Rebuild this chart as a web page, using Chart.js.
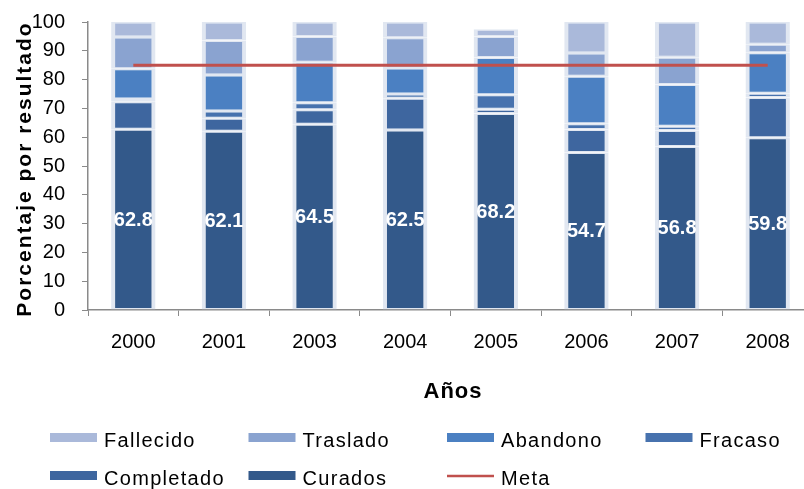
<!DOCTYPE html>
<html>
<head>
<meta charset="utf-8">
<script src="https://cdn.jsdelivr.net/npm/chart.js@4.4.1/dist/chart.umd.min.js"></script>
<style>
  html, body { margin: 0; padding: 0; background: #fff; overflow: hidden; }
  #wrap { width: 820px; height: 489px; }
</style>
</head>
<body>
<div id="wrap"><canvas id="chart" width="820" height="489"></canvas></div>
<script>
const years = ['2000', '2001', '2003', '2004', '2005', '2006', '2007', '2008'];

// porcentaje por resultado, de abajo hacia arriba en cada barra
const curados    = [62.8, 62.1, 64.5, 62.5, 68.2, 54.7, 56.8, 59.8];
const completado = [9.5, 4.5, 5.0, 11.0, 1.5, 8.0, 5.5, 14.0];
const fracaso    = [1.0, 2.5, 2.5, 1.5, 5.0, 2.0, 1.5, 1.5];
const abandono   = [10.5, 12.5, 14.0, 9.0, 13.0, 16.5, 14.5, 14.0];
const traslado   = [11.0, 12.0, 9.0, 10.5, 7.3, 8.0, 9.5, 3.0];
const fallecido  = [5.2, 6.4, 5.0, 5.5, 2.5, 10.8, 12.2, 7.7];
const metaLine   = [85, 85, 85, 85, 85, 85, 85, 85];

const yTicks = [0, 10, 20, 30, 40, 50, 60, 70, 80, 90, 100];
const yTitle = 'Porcentaje por resultado';
const xTitle = 'Años';
const legendOrder = ['Fallecido', 'Traslado', 'Abandono', 'Fracaso', 'Completado', 'Curados', 'Meta'];

const FONT = '"Liberation Sans", Arial, sans-serif';
const AXIS = '#8a8a8a';

function barSet(label, data, color) {
  return {
    type: 'bar',
    label,
    data,
    backgroundColor: color,
    borderColor: 'rgba(205, 215, 232, 0.6)',
    borderWidth: { left: 4, right: 4, top: 1.5, bottom: 1.5 },
    borderSkipped: false,
    stack: 'res',
    order: 1,
    barPercentage: 0.49,
    categoryPercentage: 1.0
  };
}

// etiquetas blancas con el % de curados en el centro del segmento
const valueLabels = {
  id: 'valueLabels',
  afterDatasetsDraw(chart) {
    const ctx = chart.ctx;
    const idx = chart.data.datasets.findIndex(d => d.label === 'Curados');
    const meta = chart.getDatasetMeta(idx);
    ctx.save();
    ctx.font = 'bold 20px ' + FONT;
    ctx.fillStyle = '#fff';
    ctx.textAlign = 'center';
    ctx.textBaseline = 'middle';
    meta.data.forEach((bar, i) => {
      ctx.fillText(curados[i].toFixed(1), bar.x, (bar.y + bar.base) / 2 + 1);
    });
    ctx.restore();
  }
};

// títulos de ejes y leyenda en dos filas
const extras = {
  id: 'extras',
  afterDraw(chart) {
    const { ctx, chartArea } = chart;
    ctx.save();
    ctx.fillStyle = '#000';
    ctx.textAlign = 'center';
    ctx.textBaseline = 'middle';

    ctx.save();
    ctx.font = 'bold 21px ' + FONT;
    ctx.letterSpacing = '2px';
    ctx.translate(25, (chartArea.top + chartArea.bottom) / 2 + 3);
    ctx.rotate(-Math.PI / 2);
    ctx.fillText(yTitle, 0, 0);
    ctx.restore();

    ctx.font = 'bold 22px ' + FONT;
    ctx.letterSpacing = '1px';
    ctx.fillText(xTitle, 453, 392);

    ctx.font = '20px ' + FONT;
    ctx.letterSpacing = '1.3px';
    ctx.textAlign = 'left';
    legendOrder.forEach((name, i) => {
      const ds = chart.data.datasets.find(d => d.label === name);
      const col = i % 4, row = Math.floor(i / 4);
      const x = 50 + col * 198.5;
      const y = 440 + row * 38;
      if (ds.type === 'line') {
        ctx.strokeStyle = ds.borderColor;
        ctx.lineWidth = 2.5;
        ctx.beginPath();
        ctx.moveTo(x, y - 2);
        ctx.lineTo(x + 47, y - 2);
        ctx.stroke();
      } else {
        ctx.fillStyle = ds.backgroundColor;
        ctx.fillRect(x, y - 7, 47, 9);
      }
      ctx.fillStyle = '#000';
      ctx.fillText(name, x + 54, y + 1);
    });
    ctx.restore();
  }
};

new Chart(document.getElementById('chart'), {
  data: {
    labels: years,
    datasets: [
      barSet('Curados', curados, '#33598a'),
      barSet('Completado', completado, '#3e669f'),
      barSet('Fracaso', fracaso, '#4772ae'),
      barSet('Abandono', abandono, '#4b80c2'),
      barSet('Traslado', traslado, '#8aa3d0'),
      barSet('Fallecido', fallecido, '#aab9da'),
      {
        type: 'line',
        label: 'Meta',
        data: metaLine,
        borderColor: '#c0504d',
        borderWidth: 3,
        pointRadius: 0,
        stack: 'meta',
        order: 0
      }
    ]
  },
  options: {
    responsive: false,
    animation: false,
    layout: { padding: { top: 22, right: 7, bottom: 79, left: 0 } },
    plugins: {
      legend: { display: false },
      tooltip: { enabled: false }
    },
    scales: {
      x: {
        stacked: true,
        grid: { offset: true, drawOnChartArea: false, tickLength: 6, color: AXIS },
        border: { color: AXIS, width: 1.5 },
        ticks: { color: '#000', font: { family: FONT, size: 20 }, padding: 14 },
        afterFit(s) { s.height = 100; s.paddingLeft = 0; s.paddingRight = 0; }
      },
      y: {
        stacked: true,
        min: 0,
        max: 100,
        afterBuildTicks(s) { s.ticks = yTicks.map(v => ({ value: v })); },
        grid: { drawOnChartArea: false, tickLength: 6, color: AXIS },
        border: { color: AXIS, width: 1.5 },
        ticks: { color: '#000', font: { family: FONT, size: 20 }, padding: 17 },
        afterFit(s) { s.width = 88; s.paddingTop = 0; s.paddingBottom = 0; }
      }
    }
  },
  plugins: [valueLabels, extras]
});
</script>
</body>
</html>
